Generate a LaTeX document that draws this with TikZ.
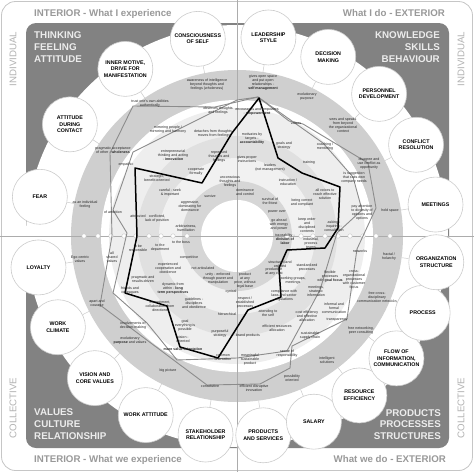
\documentclass[tikz,border=0pt]{standalone}
\usepackage{fontspec}
\setmainfont{Liberation Sans}
\begin{document}
\begin{tikzpicture}[x=1pt,y=-1pt]
\tikzset{
 bub/.style={circle, draw=gray!40, line width=0.6pt, fill=white, minimum size=55pt, inner sep=0pt, align=center, font=\fontsize{5.3}{6.6}\selectfont\bfseries},
 ttl/.style={font=\fontsize{9.8}{11}\selectfont\bfseries, text=gray!15, inner sep=0pt},
 hdr/.style={font=\fontsize{9.7}{11}\selectfont\bfseries, text=gray!80, inner sep=0pt},
 side/.style={font=\fontsize{9.7}{11}\selectfont, text=gray!60, inner sep=0pt, rotate=90},
 rt/.style={font=\fontsize{3.6}{4}\selectfont, text=black!85, align=center, inner sep=0pt},
 axisline/.style={draw=gray!65, line width=0.5pt},
 gpath/.style={draw=gray!90, line width=0.9pt, line join=round},
 bpath/.style={draw=black, line width=1.5pt, line join=round},
 dot/.style={circle, draw=gray!45, fill=white, line width=0.4pt, minimum size=4.5pt, inner sep=0pt},
 link/.style={draw=gray!40, line width=0.5pt},
}
\useasboundingbox (0,0) rectangle (474,472);
\fill[white] (0,0) rectangle (474,472);
\draw[gray!45, line width=0.8pt, rounded corners=14pt] (1.5,1.5) rectangle (472.5,470.5);
% dark frame region
\fill[gray!98!white, rounded corners=10pt] (26,23) rectangle (449,448);
\fill[white] (237,236) circle (211pt);
% rings
\fill[gray!38] (237,236) circle (166pt);
\fill[white] (237,236) circle (136pt);
\fill[gray!13] (237,236) circle (128pt);
\fill[gray!24] (237,236) circle (100pt);
\fill[gray!11] (237,236) circle (78pt);
\fill[gray!32] (237,236) circle (55pt);
\fill[white] (237,236) circle (36pt);
% axes
\draw[axisline] (237,0) -- (237,472);
\draw[axisline] (0,236) -- (474,236);
% scale dots
\foreach \r [count=\k] in {50,64,76,88,101,113,126,139,153}{
  \node[dot] (dl\k) at (237-\r,236) {};
  \node[dot] (dr\k) at (237+\r,236) {};
}
% gray profiles
\draw[gpath] (258,97) -- (289,121) -- (303,124) -- (368,163) -- (376,208) -- (357,249) -- (347,319) -- (292,346) -- (290,368) -- (260,384) -- (207,385) -- (100,305) -- (112,236) -- (110,153) -- (133,106) -- (215,107) -- cycle;
\draw[gpath] (258,97) -- (323,143) -- (353,177) -- (362,210) -- (337,233) -- (320,290) -- (287,351) -- (237,358) -- (177,360) -- (147,323) -- (113,293) -- (127,233) -- (113,210) -- (133,152) -- (237,100) -- cycle;
% black profile
\draw[bpath] (259,98) -- (278,158) -- (302,173) -- (340,187) -- (338,228) -- (325,248) -- (287,250) -- (279,268) -- (281,297) -- (248,310) -- (218,358) -- (180,347) -- (167,306) -- (125,293) -- (137,236) -- (135,168) -- (202,183) -- (232,133) -- cycle;
% ring texts
\node[rt] (t1) at (207,85) {awareness of intelligence\\beyond thoughts and\\feelings (wholeness)};
\node[rt] (t2) at (150,104) {trust one's own abilities\\authentically};
\node[rt] (t3) at (218,111) {observes thoughts\\and feelings};
\node[rt] (t4) at (168,130) {mirroring people /\\mirroring and harmony};
\node[rt] (t5) at (214,134) {detaches from thoughts /\\moves from feelings};
\node[rt] (t6) at (113,150) {pragmatic acceptance\\of other - \textbf{wholeness}};
\node[rt] (t7) at (173,155) {entrepreneurial\\thinking and acting\\- \textbf{innovation}};
\node[rt] (t8) at (126,165) {empathic};
\node[rt] (t9) at (219,157) {repressed\\thoughts and\\feelings};
\node[rt] (t10) at (157,178) {strategic,\\benefit-oriented};
\node[rt] (t11) at (196,172) {cooperate\\formally};
\node[rt] (t12) at (230,182) {unconscious\\thoughts and\\feelings};
\node[rt] (t13) at (170,193) {careful - seek\\\& important};
\node[rt] (t14) at (210,196) {survive};
\node[rt] (t15) at (85,205) {as an individual\\feeling};
\node[rt] (t16) at (113,212) {of ambition};
\node[rt] (t17) at (190,206) {aggressive,\\dominating for\\dominance};
\node[rt] (t18) at (138,216) {attributed};
\node[rt] (t19) at (157,219) {conflicted,\\lack of position};
\node[rt] (t20) at (186,228) {arbitrariness,\\humiliation};
\node[rt] (t21) at (263,83) {gives open space\\and put open\\relationships -\\\textbf{self management}};
\node[rt] (t22) at (307,97) {evolutionary\\purpose};
\node[rt] (t23) at (257,112) {encourages and empowers\\- \textbf{empowerment}};
\node[rt] (t24) at (296,123) {values};
\node[rt] (t25) at (343,125) {sees and speaks\\from beyond\\the organizational\\context};
\node[rt] (t26) at (252,139) {motivates by\\targets -\\\textbf{accountability}};
\node[rt] (t27) at (284,146) {goals and\\strategy};
\node[rt] (t28) at (325,147) {coaching /\\mentoring};
\node[rt] (t29) at (247,159) {gives proper\\instructions};
\node[rt] (t30) at (270,168) {leaders\\(not management)};
\node[rt] (t31) at (309,163) {training};
\node[rt] (t32) at (369,164) {disagree and\\use conflict as\\opportunity};
\node[rt] (t33) at (288,182) {instruction /\\education};
\node[rt] (t34) at (354,178) {is suggestion\\that suits own\\company needs};
\node[rt] (t35) at (325,194) {all voices to\\reach effective\\solution};
\node[rt] (t36) at (270,201) {survival of\\the fittest};
\node[rt] (t37) at (302,203) {being correct\\and compliant};
\node[rt] (t38) at (277,212) {power over};
\node[rt] (t39) at (362,213) {pay attention\\to diversity of\\opinions and\\options};
\node[rt] (t40) at (390,211) {hold space};
\node[rt] (t41) at (279,225) {go ahead\\with energy\\and power};
\node[rt] (t42) at (307,225) {keep order\\and\\disciplined\\contents};
\node[rt] (t43) at (334,226) {asking -\\inquiring -\\consultation};
\node[rt] (t44) at (245,192) {dominance\\and control};
\node[rt] (t46) at (80,259) {Ego-centric\\values};
\node[rt] (t47) at (112,257) {all\\shared\\values};
\node[rt] (t48) at (138,249) {to be\\responsible};
\node[rt] (t49) at (160,248) {to the\\department};
\node[rt] (t50) at (181,242) {to the boss};
\node[rt] (t51) at (189,258) {competitive};
\node[rt] (t52) at (168,268) {experienced\\cooperation and\\obedience};
\node[rt] (t53) at (203,268) {not articulated};
\node[rt] (t54) at (143,279) {pragmatic and\\results-driven};
\node[rt] (t55) at (218,279) {unity - enforced\\through power and\\manipulation};
\node[rt] (t56) at (130,291) {friends and\\colleagues};
\node[rt] (t57) at (173,289) {dynamic from\\within - \textbf{long}\\\textbf{term perspectives}};
\node[rt] (t58) at (231,292) {cynical};
\node[rt] (t59) at (97,304) {apart and\\courage};
\node[rt] (t60) at (160,306) {commitment,\\collaboration from\\directions};
\node[rt] (t61) at (194,303) {guidelines -\\disciplines\\and obedience};
\node[rt] (t62) at (227,314) {hierarchical};
\node[rt] (t63) at (133,326) {involvements of\\decision-making};
\node[rt] (t64) at (185,326) {goal\\everything is\\possible};
\node[rt] (t65) at (220,334) {purposeful\\strategy};
\node[rt] (t66) at (130,341) {evolutionary\\\textbf{purpose} and values};
\node[rt] (t67) at (183,339) {vision -\\oriented};
\node[rt] (t68) at (183,349) {\textbf{more value orientation}};
\node[rt] (t69) at (223,358) {common\\orientation};
\node[rt] (t70) at (168,371) {big picture};
\node[rt] (t71) at (210,386) {constitutive};
\node[rt] (t72) at (285,239) {traceability -\\\textbf{division of}\\\textbf{labor}};
\node[rt] (t73) at (311,243) {industrial,\\process\\teams};
\node[rt] (t74) at (360,251) {networks};
\node[rt] (t75) at (389,257) {fractal /\\holarchy};
\node[rt] (t76) at (280,264) {structured and\\ordered};
\node[rt] (t77) at (307,268) {standardized\\processes};
\node[rt] (t78) at (330,277) {flexible\\processes\\with \textbf{goal focus}};
\node[rt] (t79) at (354,280) {cross-\\organizational\\processes\\with customer\\focus};
\node[rt] (t80) at (245,281) {product\\at any\\price, without\\legal base};
\node[rt] (t81) at (274,272) {production\\at any cost};
\node[rt] (t82) at (293,281) {working groups,\\meetings};
\node[rt] (t83) at (284,296) {compliance with\\laws and sector\\regulations};
\node[rt] (t84) at (316,291) {meetings,\\strategic\\information};
\node[rt] (t85) at (377,297) {free cross-\\disciplinary\\communication networks};
\node[rt] (t86) at (245,303) {respect /\\established\\processes};
\node[rt] (t87) at (268,313) {attending to\\the self};
\node[rt] (t88) at (307,316) {cost efficiency\\and effective\\allocation};
\node[rt] (t89) at (334,308) {informal and\\formal\\communication};
\node[rt] (t90) at (337,320) {transparency};
\node[rt] (t91) at (361,331) {free networking,\\peer consulting};
\node[rt] (t92) at (277,328) {efficient resources\\allocation};
\node[rt] (t93) at (248,336) {brand products};
\node[rt] (t94) at (310,336) {sustainable\\supply chain};
\node[rt] (t95) at (287,354) {sense of\\responsibility};
\node[rt] (t96) at (250,360) {meaningful\\sustainable\\product};
\node[rt] (t97) at (327,360) {intelligent\\solutions};
\node[rt] (t98) at (292,378) {possibility\\oriented};
\node[rt] (t99) at (254,388) {efficient disruptive\\innovation};
% outer circles
\foreach \a/\n/\t in {
 101.25/c1/{CONSCIOUSNESS\\OF SELF},
 123.75/c2/{INNER MOTIVE,\\DRIVE FOR\\MANIFESTATION},
 146.25/c3/{ATTITUDE\\DURING\\CONTACT},
 168.75/c4/{FEAR},
 189/c5/{LOYALTY},
 207/c6/{WORK\\CLIMATE},
 225/c7/{VISION AND\\CORE VALUES},
 243/c8/{WORK ATTITUDE},
 261/c9/{STAKEHOLDER\\RELATIONSHIP},
 277.5/c10/{PRODUCTS\\AND SERVICES},
 292.5/c11/{SALARY},
 307.5/c12/{RESOURCE\\EFFICIENCY},
 322.5/c13/{FLOW OF\\INFORMATION,\\COMMUNICATION},
 337.5/c14/{PROCESS},
 352.5/c15/{ORGANIZATION\\STRUCTURE},
 9/c16/{MEETINGS},
 27/c17/{CONFLICT\\RESOLUTION},
 45/c18/{PERSONNEL\\DEVELOPMENT},
 63/c19/{DECISION\\MAKING},
 81/c20/{LEADERSHIP\\STYLE}}{
  \node[bub] (\n) at ({237+201*cos(\a)},{236-201*sin(\a)}) {\t};
  \coordinate (\n r) at ({237+166*cos(\a)},{236-166*sin(\a)});
  \draw[link] (\n r) -- (\n);
}
% headers
\node[hdr, anchor=base west] (h1) at (34,16.5) {INTERIOR - What I experience};
\node[hdr, anchor=base east] (h2) at (445,16.5) {What I do - EXTERIOR};
\node[hdr, anchor=base west] (h3) at (34,462.5) {INTERIOR - What we experience};
\node[hdr, anchor=base east] (h4) at (446,462.5) {What we do - EXTERIOR};
% sides
\node[side] (s1) at (13,59) {INDIVIDUAL};
\node[side] (s2) at (461,59) {INDIVIDUAL};
\node[side] (s3) at (13,408) {COLLECTIVE};
\node[side] (s4) at (461,408) {COLLECTIVE};
% quadrant titles
\node[ttl, anchor=base west] (q1) at (34,38.5) {THINKING};
\node[ttl, anchor=base west] (q2) at (34,50.8) {FEELING};
\node[ttl, anchor=base west] (q3) at (34,62.8) {ATTITUDE};
\node[ttl, anchor=base east] (q4) at (440,38.5) {KNOWLEDGE};
\node[ttl, anchor=base east] (q5) at (440,50.5) {SKILLS};
\node[ttl, anchor=base east] (q6) at (440,62.5) {BEHAVIOUR};
\node[ttl, anchor=base west] (q7) at (34,415.5) {VALUES};
\node[ttl, anchor=base west] (q8) at (34,427.8) {CULTURE};
\node[ttl, anchor=base west] (q9) at (34,439.5) {RELATIONSHIP};
\node[ttl, anchor=base east] (q10) at (441,416) {PRODUCTS};
\node[ttl, anchor=base east] (q11) at (441,427.8) {PROCESSES};
\node[ttl, anchor=base east] (q12) at (441,439.5) {STRUCTURES};
\end{tikzpicture}
\end{document}
